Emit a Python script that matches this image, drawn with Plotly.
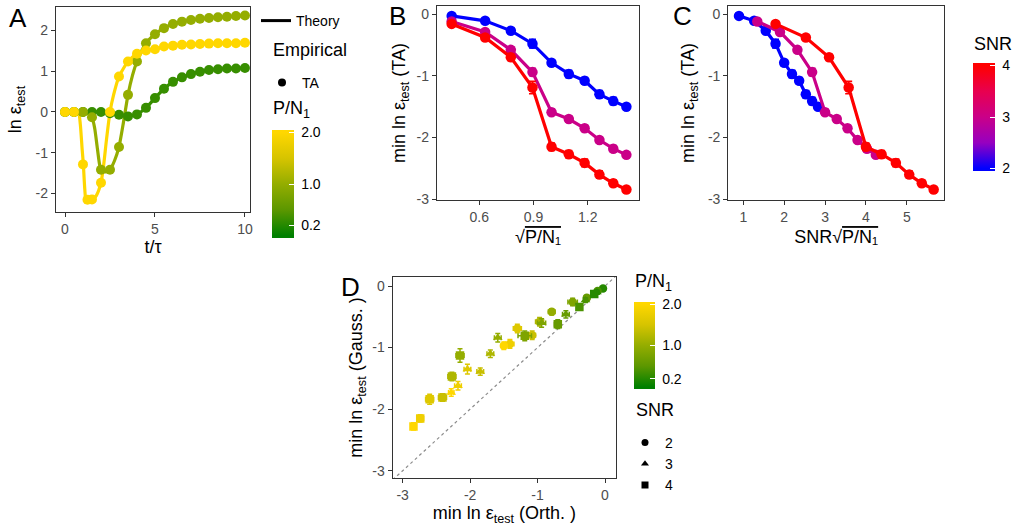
import numpy as np
import plotly.graph_objects as go

FONT = "Liberation Sans, Arial, sans-serif"
W, H = 1016, 531

# ---------------- Panel A: ln test error over time ----------------
a_loads = [0.3, 1.0, 2.0]                      # P/N1 of the three curves
t_dots = [0, 0.5, 1.0, 1.5, 2.0, 2.5, 3.0, 3.5, 4.0, 4.5, 5.0,
          5.5, 6.0, 6.5, 7.0, 7.5, 8.0, 8.5, 9.0, 9.5, 10.0]
t_dots_hi = [0, 0.5, 1.0, 1.25, 1.5, 2.0, 2.5, 3.0, 3.5, 4.0, 4.5, 5.0,
             5.5, 6.0, 6.5, 7.0, 7.5, 8.0, 8.5, 9.0, 9.5, 10.0]
emp_low = [0, 0, 0, 0, 0, -0.03, -0.07, -0.11, -0.06, 0.10, 0.34,
           0.57, 0.74, 0.85, 0.93, 0.99, 1.03, 1.05, 1.07, 1.07, 1.08]
emp_mid = [0, 0, 0, -0.13, -1.42, -1.42, -0.86, 0.42, 1.24, 1.69, 1.91,
           2.06, 2.16, 2.22, 2.26, 2.29, 2.31, 2.33, 2.34, 2.36, 2.37]
emp_high = [0, 0, -1.29, -2.16, -2.15, -1.74, 0, 0.87, 1.24, 1.43, 1.51,
            1.54, 1.61, 1.63, 1.65, 1.66, 1.67, 1.68, 1.69, 1.69, 1.69, 1.70]

th_t_low = [0, 1, 2, 2.5, 3, 3.5, 4, 4.5, 5, 5.5, 6, 6.5, 7, 7.5, 8, 8.5, 9, 10]
th_low = [0, 0, 0, -0.03, -0.07, -0.10, -0.06, 0.10, 0.34, 0.57, 0.74,
          0.85, 0.93, 0.99, 1.03, 1.05, 1.07, 1.08]
th_t_mid = [0, 0.5, 1.0, 1.25, 1.5, 1.65, 1.8, 1.95, 2.1, 2.3, 2.5, 2.75, 3.0,
            3.25, 3.5, 3.75, 4.0, 4.5, 5, 5.5, 6, 6.5, 7, 8, 9, 10]
th_mid = [0, 0, 0, -0.03, -0.13, -0.4, -0.9, -1.35, -1.46, -1.47, -1.42, -1.2,
          -0.86, -0.25, 0.42, 0.9, 1.24, 1.69, 1.91, 2.06, 2.16, 2.22, 2.26,
          2.31, 2.34, 2.37]
th_t_high = [0, 0.5, 0.75, 0.85, 0.95, 1.02, 1.1, 1.17, 1.3, 1.5, 1.75, 2.0,
             2.15, 2.3, 2.5, 2.7, 3.0, 3.5, 4, 4.5, 5, 5.5, 6, 7, 8, 9, 10]
th_high = [0, 0, -0.02, -0.3, -0.9, -1.29, -1.9, -2.18, -2.2, -2.17, -2.05,
           -1.74, -1.3, -0.7, 0, 0.42, 0.87, 1.24, 1.43, 1.51, 1.55, 1.6, 1.63,
           1.66, 1.68, 1.69, 1.70]

# ---------------- Panels B/C/D: minimum test error ----------------
p_over_n = [0.2, 0.4, 0.6, 0.8, 1.0, 1.2, 1.4, 1.6, 1.8, 2.0]
snr_levels = [2, 3, 4]
ta_min = {
    2: [-0.03, -0.11, -0.27, -0.48, -0.79, -0.97, -1.08, -1.30, -1.41, -1.50],
    3: [-0.12, -0.29, -0.58, -0.94, -1.59, -1.70, -1.85, -2.04, -2.18, -2.28],
    4: [-0.16, -0.38, -0.70, -1.19, -2.15, -2.27, -2.41, -2.60, -2.74, -2.84],
}
ta_err = {
    2: [0.02, 0.03, 0.04, 0.07, 0.05, 0.06, 0.05, 0.06, 0.06, 0.04],
    3: [0.03, 0.03, 0.05, 0.06, 0.05, 0.05, 0.05, 0.05, 0.05, 0.04],
    4: [0.03, 0.04, 0.05, 0.10, 0.06, 0.06, 0.06, 0.06, 0.05, 0.04],
}
gauss_min = {
    2: [-0.04, -0.08, -0.19, -0.26, -0.42, -0.58, -0.80, -0.69, -0.94, -0.97],
    3: [-0.10, -0.23, -0.46, -0.60, -0.84, -1.10, -1.39, -1.35, -1.62, -1.73],
    4: [-0.13, -0.34, -0.62, -0.81, -1.13, -1.47, -1.81, -1.84, -2.15, -2.28],
}
gauss_err = {
    2: [0.02, 0.03, 0.04, 0.06, 0.05, 0.07, 0.07, 0.07, 0.07, 0.06],
    3: [0.03, 0.04, 0.06, 0.07, 0.07, 0.06, 0.06, 0.08, 0.07, 0.06],
    4: [0.03, 0.05, 0.07, 0.08, 0.11, 0.07, 0.06, 0.08, 0.06, 0.06],
}
snr_symbols = {2: "circle", 3: "triangle-up", 4: "square"}

# ---------------- colour scales ----------------
PN_STOPS = [(0.0, (0, 128, 0)), (0.5, (92, 151, 0)), (1.0, (148, 173, 0)),
            (1.5, (214, 196, 0)), (2.0, (255, 215, 0))]
SNR_STOPS = [(2.0, (0, 0, 255)), (2.5, (151, 0, 192)), (3.0, (202, 0, 136)),
             (3.5, (232, 0, 79)), (4.0, (255, 0, 0))]
PN_RANGE = (-0.05, 2.05)
SNR_RANGE = (1.95, 4.05)


def rgb(c):
    return "rgb(%d,%d,%d)" % tuple(int(round(v)) for v in c)


def color_at(stops, v):
    if v <= stops[0][0]:
        return rgb(stops[0][1])
    for (v0, c0), (v1, c1) in zip(stops[:-1], stops[1:]):
        if v <= v1:
            f = (v - v0) / (v1 - v0)
            return rgb([a + (b - a) * f for a, b in zip(c0, c1)])
    return rgb(stops[-1][1])


def scale(stops, lo, hi):
    out = [[0.0, rgb(stops[0][1])]]
    for v, c in stops:
        out.append([(v - lo) / (hi - lo), rgb(c)])
    out.append([1.0, rgb(stops[-1][1])])
    return out


fig = go.Figure()

# Panel A traces: theory lines, then empirical dots
a_series = [
    (a_loads[0], th_t_low, th_low, t_dots, emp_low),
    (a_loads[1], th_t_mid, th_mid, t_dots, emp_mid),
    (a_loads[2], th_t_high, th_high, t_dots_hi, emp_high),
]
for load, tt, tv, td, dv in a_series:
    c = color_at(PN_STOPS, load)
    fig.add_trace(go.Scatter(x=tt, y=tv, mode="lines",
                             line=dict(color=c, width=3.2, shape="spline", smoothing=0.6),
                             showlegend=False, hoverinfo="skip", xaxis="x", yaxis="y"))
for load, tt, tv, td, dv in a_series:
    c = color_at(PN_STOPS, load)
    fig.add_trace(go.Scatter(x=td, y=dv, mode="markers",
                             marker=dict(color=c, size=10),
                             showlegend=False, xaxis="x", yaxis="y"))

# Panels B and C
sqrt_pn = np.sqrt(p_over_n)
for snr in snr_levels:
    c = color_at(SNR_STOPS, snr)
    err = dict(type="data", array=ta_err[snr], color=c, thickness=1.6, width=3.5)
    fig.add_trace(go.Scatter(x=sqrt_pn, y=ta_min[snr], mode="lines+markers",
                             line=dict(color=c, width=3.2), marker=dict(color=c, size=10.5),
                             error_y=err, showlegend=False, xaxis="x2", yaxis="y2"))
for snr in snr_levels:
    c = color_at(SNR_STOPS, snr)
    err = dict(type="data", array=ta_err[snr], color=c, thickness=1.6, width=3.5)
    fig.add_trace(go.Scatter(x=snr * sqrt_pn, y=ta_min[snr], mode="lines+markers",
                             line=dict(color=c, width=3.2), marker=dict(color=c, size=10.5),
                             error_y=err, showlegend=False, xaxis="x3", yaxis="y3"))

# Panel D: orthogonal vs Gaussian minimum error
d_range = [-3.148, 0.163]
fig.add_shape(type="line", xref="x4", yref="y4", x0=d_range[0], y0=d_range[0],
              x1=d_range[1], y1=d_range[1],
              line=dict(color="#8c8c8c", width=1.2, dash="dot"), layer="below")
for snr in snr_levels:
    for i, load in enumerate(p_over_n):
        c = color_at(PN_STOPS, load)
        fig.add_trace(go.Scatter(
            x=[ta_min[snr][i]], y=[gauss_min[snr][i]], mode="markers",
            marker=dict(color=c, size=8.5, symbol=snr_symbols[snr]),
            error_x=dict(type="data", array=[ta_err[snr][i]], color=c, thickness=1.5, width=2.5),
            error_y=dict(type="data", array=[gauss_err[snr][i]], color=c, thickness=1.5, width=2.5),
            showlegend=False, xaxis="x4", yaxis="y4"))

# Colour bars
NB = "\u00a0"


def colorbar_trace(stops, rng, ticks, labels, x, top, length, thick):
    return go.Scatter(
        x=[None], y=[None], mode="markers", showlegend=False, hoverinfo="skip",
        marker=dict(color=[rng[0], rng[1]], cmin=rng[0], cmax=rng[1],
                    colorscale=scale(stops, *rng), showscale=True,
                    colorbar=dict(x=x / W, xanchor="left", y=1 - top / H, yanchor="top",
                                  len=length / H, lenmode="fraction", thickness=thick,
                                  thicknessmode="pixels", outlinewidth=0, xpad=0, ypad=0,
                                  ticks="inside", ticklen=5, tickcolor="white", tickwidth=1,
                                  tickvals=ticks, ticktext=[NB + s for s in labels],
                                  tickfont=dict(family=FONT, size=14, color="black"))),
        xaxis="x", yaxis="y")


fig.add_trace(colorbar_trace(PN_STOPS, PN_RANGE, [0.2, 1.0, 2.0], ["0.2", "1.0", "2.0"],
                             271.5, 130, 108, 22))
fig.add_trace(colorbar_trace(SNR_STOPS, SNR_RANGE, [2, 3, 4], ["2", "3", "4"],
                             973, 63, 108, 22))
fig.add_trace(colorbar_trace(PN_STOPS, PN_RANGE, [0.2, 1.0, 2.0], ["0.2", "1.0", "2.0"],
                             634, 302, 87, 21))

# Legend keys
fig.add_trace(go.Scatter(x=[None], y=[None], mode="lines", name="Theory",
                         line=dict(color="black", width=3), legend="legend"))
fig.add_trace(go.Scatter(x=[None], y=[None], mode="markers", name="TA",
                         marker=dict(color="black", size=8), legend="legend2"))
for snr in snr_levels:
    fig.add_trace(go.Scatter(x=[None], y=[None], mode="markers", name=str(snr),
                             marker=dict(color="black", size=7, symbol=snr_symbols[snr]),
                             legend="legend3", legendgroup=str(snr)))


def axis(domain, rng, tickvals, ticktext, title, standoff, anchor):
    return dict(domain=domain, range=rng, tickvals=tickvals, ticktext=ticktext,
                showline=True, mirror=True, linecolor="#333333", linewidth=1.3,
                ticks="outside", ticklen=4, tickwidth=1.1, tickcolor="#333333",
                tickfont=dict(family=FONT, size=14, color="#4D4D4D"),
                showgrid=False, zeroline=False, automargin=False, anchor=anchor,
                title=dict(text=title, standoff=standoff,
                           font=dict(family=FONT, size=18, color="black")))


def xd(l, r):
    return [l / W, r / W]


def yd(top, bottom):
    return [1 - bottom / H, 1 - top / H]


ln_eps = "ln ε<sub>test</sub>"
sqrt_lbl = "√<span style='text-decoration:overline'>P/N\u2081</span>"
yt_ta = "min " + ln_eps + " (TA)"

legend_common = dict(bgcolor="rgba(0,0,0,0)", borderwidth=0, xanchor="left", yanchor="top",
                     font=dict(family=FONT, size=14, color="black"), itemclick=False)

fig.update_layout(
    width=W, height=H, margin=dict(l=0, r=0, t=0, b=0),
    paper_bgcolor="white", plot_bgcolor="white",
    font=dict(family=FONT, color="black"),
    xaxis=axis(xd(56, 250), [-0.5, 10.28], [0, 5, 10], ["0", "5", "10"], "t/τ", 4, "y"),
    yaxis=axis(yd(7, 212), [-2.46, 2.58], [-2, -1, 0, 1, 2],
               ["-2", "-1", "0", "1", "2"], ln_eps, 9, "x"),
    xaxis2=axis(xd(437, 639), [0.366, 1.484], [0.6, 0.9, 1.2], ["0.6", "0.9", "1.2"],
                sqrt_lbl, 6, "y2"),
    yaxis2=axis(yd(6, 200), [-3.011, 0.13], [-3, -2, -1, 0], ["-3", "-2", "-1", "0"],
                yt_ta, 6, "x2"),
    xaxis3=axis(xd(728.3, 944), [0.633, 5.91], [1, 2, 3, 4, 5], ["1", "2", "3", "4", "5"],
                "SNR" + sqrt_lbl, 6, "y3"),
    yaxis3=axis(yd(6, 200), [-3.011, 0.13], [-3, -2, -1, 0], ["-3", "-2", "-1", "0"],
                yt_ta, 8, "x3"),
    xaxis4=axis(xd(392.7, 616), d_range, [-3, -2, -1, 0], ["-3", "-2", "-1", "0"],
                "min " + ln_eps + " (Orth. )", 4, "y4"),
    yaxis4=axis(yd(276.7, 478.3), [-3.123, 0.151], [-3, -2, -1, 0], ["-3", "-2", "-1", "0"],
                "min " + ln_eps + " (Gauss. )", 4, "x4"),
    legend=dict(x=256 / W, y=1 - 5 / H, **legend_common),
    legend2=dict(x=262 / W, y=1 - 67 / H, **legend_common),
    legend3=dict(x=625 / W, y=1 - 427 / H, tracegroupgap=0, **legend_common),
)

# Panel tags and legend titles
notes = [
    ("A", 7, 18, 26), ("B", 387, 16, 26), ("C", 671, 16, 26), ("D", 339, 287, 26),
    ("Empirical", 271, 50, 18), ("P/N<sub>1</sub>", 271, 110, 18),
    ("SNR", 972, 44, 18), ("P/N<sub>1</sub>", 633, 282, 18), ("SNR", 634, 410, 18),
]
for text, x, y, size in notes:
    fig.add_annotation(text=text, x=x / W, y=1 - y / H, xref="paper", yref="paper",
                       xanchor="left", yanchor="middle", showarrow=False,
                       font=dict(family=FONT, size=size, color="black"))

fig.write_html("out.html")
